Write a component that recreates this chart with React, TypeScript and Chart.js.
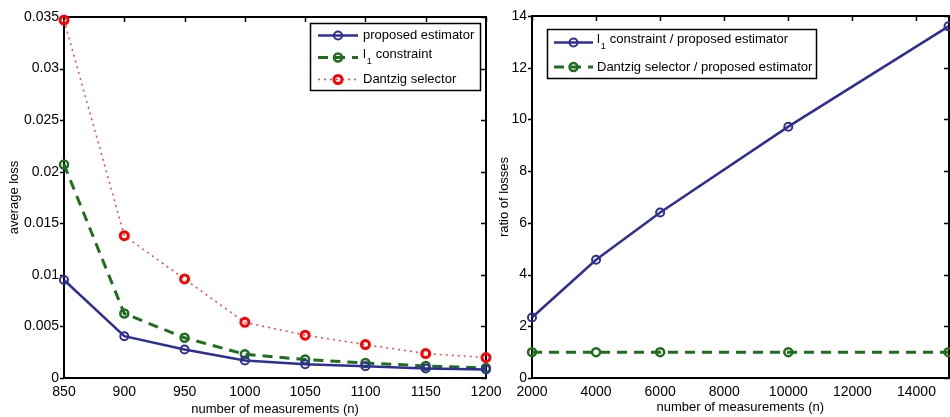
import React, { useEffect, useRef } from 'react';
import { Chart, registerables } from 'chart.js';

Chart.register(...registerables);

// ---------- data ----------
const lossN = [850, 900, 950, 1000, 1050, 1100, 1150, 1200];
const proposedLoss = [0.0095, 0.00405, 0.00277, 0.0017, 0.00133, 0.00114, 0.00092, 0.00082];
const l1Loss = [0.0207, 0.00625, 0.0039, 0.0023, 0.00179, 0.00146, 0.00117, 0.00097];
const dantzigLoss = [0.0347, 0.0138, 0.0096, 0.0054, 0.00415, 0.00324, 0.00237, 0.00198];

const ratioN = [2000, 4000, 6000, 10000, 15000];
const l1Ratio = [2.34, 4.57, 6.4, 9.72, 13.6];
const dantzigRatio = [1.0, 1.0, 1.0, 1.0, 1.0];

const lossXTicks = [850, 900, 950, 1000, 1050, 1100, 1150, 1200];
const lossYTicks = [0, 0.005, 0.01, 0.015, 0.02, 0.025, 0.03, 0.035];
const lossYTickLabels = ['0', '0.005', '0.01', '0.015', '0.02', '0.025', '0.03', '0.035'];
const ratioXTicks = [2000, 4000, 6000, 8000, 10000, 12000, 14000];
const ratioYTicks = [0, 2, 4, 6, 8, 10, 12, 14];

const seriesLabels = ['proposed estimator', 'l₁ constraint', 'Dantzig selector'];
const ratioLabels = ['l₁ constraint / proposed estimator', 'Dantzig selector / proposed estimator'];

// ---------- styles ----------
const FONT = '"Liberation Sans", Arial, Helvetica, sans-serif';
const BLUE = '#2E2E96';
const GREEN = '#1E6E1E';
const RED = '#FF0000';
const RED_LINE = '#FF4040';

const blueStyle = {
  borderColor: BLUE, borderWidth: 2.5, borderDash: [] as number[],
  pointBorderColor: BLUE, pointBorderWidth: 2, pointRadius: 4,
};
const greenStyle = {
  borderColor: GREEN, borderWidth: 3, borderDash: [10, 7],
  pointBorderColor: GREEN, pointBorderWidth: 2.5, pointRadius: 4,
};
const redStyle = {
  borderColor: RED_LINE, borderWidth: 1.5, borderDash: [2, 4],
  pointBorderColor: RED, pointBorderWidth: 3, pointRadius: 4,
};

function makeDataset(label: string, xs: number[], ys: number[], style: any) {
  return {
    label,
    data: xs.map((x, i) => ({ x, y: ys[i] })),
    ...style,
    pointStyle: 'circle',
    pointBackgroundColor: 'rgba(0,0,0,0)',
    pointHoverRadius: style.pointRadius,
    backgroundColor: 'rgba(0,0,0,0)',
    fill: false,
    tension: 0,
    clip: false,
  };
}

// ---------- plugins ----------
const framePlugin = {
  id: 'matlabFrame',
  beforeDatasetsDraw(chart: any) {
    const { ctx, chartArea: a, scales } = chart;
    const L = Math.round(a.left), R = Math.round(a.right), T = Math.round(a.top), B = Math.round(a.bottom);
    ctx.save();
    ctx.strokeStyle = '#000';
    ctx.lineWidth = 2;
    ctx.strokeRect(L, T, R - L, B - T);
    ctx.lineWidth = 1.5;
    ctx.beginPath();
    scales.x.ticks.forEach((tk: any) => {
      const px = Math.round(scales.x.getPixelForValue(tk.value)) + 0.5;
      ctx.moveTo(px, T); ctx.lineTo(px, T + 5);
    });
    scales.y.ticks.forEach((tk: any) => {
      const py = Math.round(scales.y.getPixelForValue(tk.value)) + 0.5;
      ctx.moveTo(L, py); ctx.lineTo(L - 4, py);
      ctx.moveTo(R, py); ctx.lineTo(R - 5, py);
    });
    ctx.stroke();
    ctx.restore();
  },
};

function drawLabel(ctx: CanvasRenderingContext2D, label: string, tx: number, cy: number) {
  ctx.fillStyle = '#000';
  ctx.textBaseline = 'middle';
  ctx.textAlign = 'left';
  const main = `13px ${FONT}`;
  const sub = `9px ${FONT}`;
  if (label.includes('₁')) {
    const [a, b] = label.split('₁');
    ctx.font = main;
    ctx.fillText(a, tx, cy - 3);
    const wa = ctx.measureText(a).width;
    ctx.font = sub;
    ctx.fillText('1', tx + wa + 0.8, cy + 4);
    const w1 = ctx.measureText('1').width;
    ctx.font = main;
    ctx.fillText(b, tx + wa + w1 + 1.2, cy - 3);
  } else {
    ctx.font = main;
    ctx.fillText(label, tx, cy);
  }
}

const legendPlugin = {
  id: 'boxLegend',
  afterDraw(chart: any, _args: any, opts: any) {
    if (!opts || !opts.box) return;
    const ctx: CanvasRenderingContext2D = chart.ctx;
    const { x, y, w, h } = opts.box;
    ctx.save();
    ctx.fillStyle = '#fff';
    ctx.fillRect(x, y, w, h);
    ctx.strokeStyle = '#000';
    ctx.lineWidth = 1.5;
    ctx.strokeRect(Math.round(x) + 0.5, Math.round(y) + 0.5, Math.round(w), Math.round(h));
    chart.data.datasets.forEach((ds: any, i: number) => {
      const cy = y + opts.firstRow + i * opts.rowGap;
      const x0 = x + opts.sampleStart;
      const x1 = x + opts.sampleEnd;
      ctx.save();
      ctx.strokeStyle = ds.borderColor;
      ctx.lineWidth = ds.borderWidth;
      ctx.setLineDash(ds.borderDash || []);
      ctx.beginPath();
      ctx.moveTo(x0, cy);
      ctx.lineTo(x1, cy);
      ctx.stroke();
      ctx.setLineDash([]);
      ctx.strokeStyle = ds.pointBorderColor;
      ctx.lineWidth = ds.pointBorderWidth;
      ctx.beginPath();
      ctx.arc((x0 + x1) / 2, cy, ds.pointRadius, 0, Math.PI * 2);
      ctx.stroke();
      ctx.restore();
      drawLabel(ctx, ds.label, x + opts.textStart, cy);
    });
    ctx.restore();
  },
};

function axisTicks(size: number) {
  return { color: '#000', font: { family: FONT, size }, maxRotation: 0, autoSkip: false };
}

function buildScales(o: any) {
  return {
    x: {
      type: 'linear',
      min: o.xMin, max: o.xMax,
      afterBuildTicks: (s: any) => { s.ticks = o.xTicks.map((v: number) => ({ value: v })); },
      afterFit: (s: any) => { s.height = o.xHeight; },
      grid: { display: false, drawTicks: false },
      border: { display: false },
      ticks: { ...axisTicks(14), padding: 6, callback: (v: any) => String(v) },
      title: {
        display: true, text: 'number of measurements (n)', color: '#000',
        font: { family: FONT, size: 13 }, padding: { top: 0, bottom: o.xTitlePad },
      },
    },
    y: {
      type: 'linear',
      min: o.yMin, max: o.yMax,
      afterBuildTicks: (s: any) => { s.ticks = o.yTicks.map((v: number) => ({ value: v })); },
      afterFit: (s: any) => { s.width = o.yWidth; },
      grid: { display: false, drawTicks: false },
      border: { display: false },
      ticks: { ...axisTicks(14), padding: o.yTickPad, callback: o.yLabel },
      title: {
        display: true, text: o.yTitle, color: '#000',
        font: { family: FONT, size: 13 }, padding: { top: o.yTitlePad, bottom: 0 },
      },
    },
  };
}

const leftConfig: any = {
  type: 'line',
  data: {
    datasets: [
      makeDataset(seriesLabels[0], lossN, proposedLoss, blueStyle),
      makeDataset(seriesLabels[1], lossN, l1Loss, greenStyle),
      makeDataset(seriesLabels[2], lossN, dantzigLoss, redStyle),
    ],
  },
  options: {
    responsive: false,
    animation: false,
    devicePixelRatio: 1,
    events: [],
    layout: { padding: { left: 0, right: 24, top: 17, bottom: 0 } },
    scales: buildScales({
      xMin: 850, xMax: 1200, xTicks: lossXTicks, xHeight: 39, xTitlePad: 0,
      yMin: 0, yMax: 0.035, yTicks: lossYTicks, yWidth: 64, yTickPad: 5,
      yLabel: (_v: any, i: number) => lossYTickLabels[i],
      yTitle: 'average loss', yTitlePad: 7,
    }),
    plugins: {
      legend: { display: false },
      tooltip: { enabled: false },
      boxLegend: {
        box: { x: 310, y: 23, w: 170, h: 67 },
        firstRow: 12.5, rowGap: 22, sampleStart: 8, sampleEnd: 48, textStart: 53,
      },
    },
  },
  plugins: [framePlugin, legendPlugin],
};

const rightConfig: any = {
  type: 'line',
  data: {
    datasets: [
      makeDataset(ratioLabels[0], ratioN, l1Ratio, blueStyle),
      makeDataset(ratioLabels[1], ratioN, dantzigRatio, greenStyle),
    ],
  },
  options: {
    responsive: false,
    animation: false,
    devicePixelRatio: 1,
    events: [],
    layout: { padding: { left: 0, right: 1, top: 16, bottom: 0 } },
    scales: buildScales({
      xMin: 2000, xMax: 15000, xTicks: ratioXTicks, xHeight: 39, xTitlePad: 2,
      yMin: 0, yMax: 14, yTicks: ratioYTicks, yWidth: 47, yTickPad: 5,
      yLabel: (v: any) => String(v),
      yTitle: 'ratio of losses', yTitlePad: 12,
    }),
    plugins: {
      legend: { display: false },
      tooltip: { enabled: false },
      boxLegend: {
        box: { x: 62, y: 29, w: 269, h: 49 },
        firstRow: 13.5, rowGap: 24.5, sampleStart: 7, sampleEnd: 46, textStart: 50,
      },
    },
  },
  plugins: [framePlugin, legendPlugin],
};

function ChartCanvas({ config, left, width, height }: any) {
  const ref = useRef<HTMLCanvasElement>(null);
  useEffect(() => {
    const chart = new Chart(ref.current as HTMLCanvasElement, config);
    return () => chart.destroy();
  }, [config]);
  return (
    <canvas
      ref={ref}
      width={width}
      height={height}
      style={{ position: 'absolute', left, top: 0, width, height }}
    />
  );
}

export default function App() {
  return (
    <div
      style={{
        position: 'fixed', left: 0, top: 0, width: 950, height: 417,
        overflow: 'hidden', background: '#fff',
      }}
    >
      <ChartCanvas config={leftConfig} left={0} width={510} height={417} />
      <ChartCanvas config={rightConfig} left={485} width={470} height={417} />
    </div>
  );
}
